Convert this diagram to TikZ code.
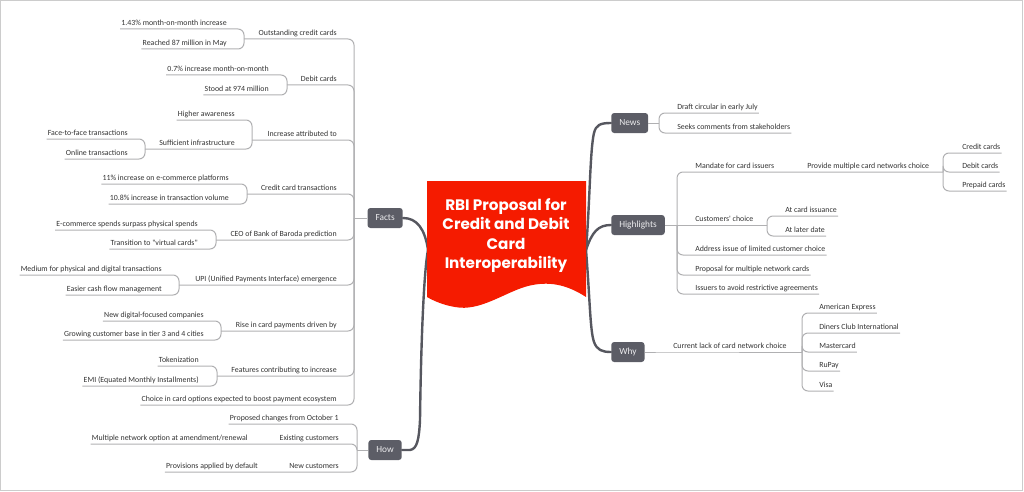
\documentclass[tikz,border=0pt]{standalone}
\usepackage{fontspec}
\setmainfont{Carlito}[Ligatures=TeXOff]
\newfontfamily\titlefont{Poppins}
\definecolor{hubgray}{RGB}{92,93,102}
\definecolor{hubtext}{RGB}{236,236,238}
\definecolor{txtgray}{RGB}{51,51,51}
\definecolor{linegray}{RGB}{176,176,178}
\definecolor{trunkgray}{RGB}{86,87,95}
\definecolor{rbired}{RGB}{245,27,0}
\definecolor{framegray}{RGB}{204,204,204}
\tikzset{
  every node/.style={font=\fontsize{5.9}{7}\selectfont},
  topic/.style={text=txtgray, inner xsep=0.75pt, inner ysep=0pt, text height=4.3pt, text depth=2.6pt},
  lt/.style={topic, anchor=south east},
  rt/.style={topic, anchor=south west},
  hub/.style={fill=hubgray, text=hubtext, rounded corners=2.2pt, inner xsep=6pt, inner ysep=0pt, minimum height=15pt, font=\fontsize{7}{8}\selectfont},
  branch/.style={draw=linegray, line width=0.75pt, rounded corners=4.5pt},
  trunk/.style={draw=trunkgray, line width=1.8pt, line cap=round},
}
\begin{document}
\begin{tikzpicture}[x=0.75pt, y=-0.75pt]
\useasboundingbox (0,0) rectangle (1024,492);
\draw[framegray, line width=1.1pt] (0.7,0.7) rectangle (1022.5,490.5);

\coordinate (cl) at (428,250);
\coordinate (cr) at (586,250);

\node[hub, anchor=east] (facts) at (403,218) {Facts};
\node[hub, anchor=east] (how) at (402,450) {How};
\node[hub, anchor=west] (news) at (611,123) {News};
\node[hub, anchor=west] (highl) at (611,225) {Highlights};
\node[hub, anchor=west] (why) at (611,352) {Why};

\draw[trunk] (facts.east) .. controls (417,218) and (425,229) .. (cl);
\draw[trunk] (how.east) -- (410,450) .. controls (417,449) and (419,440) .. (420,420) .. controls (421,340) and (424,270) .. (cl);
\draw[trunk] (cr) .. controls (590,200) and (590,150) .. (594,133) .. controls (596,125) and (600,123) .. (news.west);
\draw[trunk] (cr) .. controls (592,232) and (598,225) .. (highl.west);
\draw[trunk] (cr) .. controls (590,300) and (590,330) .. (594,342) .. controls (597,350) and (602,352) .. (why.west);

\fill[rbired] (427,181) -- (586,181) -- (586,297) .. controls (566,284) and (548,281) .. (528,286) .. controls (505,292) and (480,312) .. (455,307) .. controls (443,305) and (434,301) .. (427,297) -- cycle;
\node[font=\titlefont\bfseries\fontsize{11.4}{14.6}\selectfont, text=white, align=center] (rbi) at (506,235.5) {RBI Proposal for\\Credit and Debit\\Card\\Interoperability};

\coordinate (jfacts) at (354,218);
\node[lt] (outst) at (338,39) {Outstanding credit cards};
\coordinate (joutst) at (244,39);
\node[lt] (outst1) at (228,29) {1.43\% month-on-month increase};
\node[lt] (outst2) at (228,49) {Reached 87 million in May};
\node[lt] (debitc) at (338,85) {Debit cards};
\coordinate (jdebitc) at (287,85);
\node[lt] (debitc1) at (270,75) {0.7\% increase month-on-month};
\node[lt] (debitc2) at (270,95) {Stood at 974 million};
\node[lt] (attrib) at (338,140) {Increase attributed to};
\coordinate (jattrib) at (252,140);
\node[lt] (aware) at (236,120) {Higher awareness};
\node[lt] (infra) at (236,149) {Sufficient infrastructure};
\coordinate (jinfra) at (145,149);
\node[lt] (face) at (129,139) {Face-to-face transactions};
\node[lt] (online) at (129,159) {Online transactions};
\node[lt] (cctrans) at (338,194) {Credit card transactions};
\coordinate (jcctrans) at (247,194);
\node[lt] (cctrans1) at (230,184) {11\% increase on e-commerce platforms};
\node[lt] (cctrans2) at (230,204) {10.8\% increase in transaction volume};
\node[lt] (ceo) at (338,240) {CEO of Bank of Baroda prediction};
\coordinate (jceo) at (216,240);
\node[lt] (ceo1) at (199,230) {E-commerce spends surpass physical spends};
\node[lt] (ceo2) at (199,249) {Transition to "virtual cards"};
\node[lt] (upi) at (338,285) {UPI (Unified Payments Interface) emergence};
\coordinate (jupi) at (179,285);
\node[lt] (upi1) at (163,275) {Medium for physical and digital transactions};
\node[lt] (upi2) at (163,295) {Easier cash flow management};
\node[lt] (rise) at (338,331) {Rise in card payments driven by};
\coordinate (jrise) at (221,331);
\node[lt] (rise1) at (205,321) {New digital-focused companies};
\node[lt] (rise2) at (205,340) {Growing customer base in tier 3 and 4 cities};
\node[lt] (feat) at (338,376) {Features contributing to increase};
\coordinate (jfeat) at (217,376);
\node[lt] (feat1) at (200,366) {Tokenization};
\node[lt] (feat2) at (200,386) {EMI (Equated Monthly Installments)};
\node[lt] (choice) at (338,405) {Choice in card options expected to boost payment ecosystem};

\draw[branch] (facts.west) -- (jfacts);
\draw[branch] (jfacts) |- (outst.south east) -- (joutst);
\draw[branch] (joutst) |- (outst1.south west);
\draw[branch] (joutst) |- (outst2.south west);
\draw[branch] (jfacts) |- (debitc.south east) -- (jdebitc);
\draw[branch] (jdebitc) |- (debitc1.south west);
\draw[branch] (jdebitc) |- (debitc2.south west);
\draw[branch] (jfacts) |- (attrib.south east) -- (jattrib);
\draw[branch] (jattrib) |- (aware.south west);
\draw[branch] (jattrib) |- (infra.south east) -- (jinfra);
\draw[branch] (jinfra) |- (face.south west);
\draw[branch] (jinfra) |- (online.south west);
\draw[branch] (jfacts) |- (cctrans.south east) -- (jcctrans);
\draw[branch] (jcctrans) |- (cctrans1.south west);
\draw[branch] (jcctrans) |- (cctrans2.south west);
\draw[branch] (jfacts) |- (ceo.south east) -- (jceo);
\draw[branch] (jceo) |- (ceo1.south west);
\draw[branch] (jceo) |- (ceo2.south west);
\draw[branch] (jfacts) |- (upi.south east) -- (jupi);
\draw[branch] (jupi) |- (upi1.south west);
\draw[branch] (jupi) |- (upi2.south west);
\draw[branch] (jfacts) |- (rise.south east) -- (jrise);
\draw[branch] (jrise) |- (rise1.south west);
\draw[branch] (jrise) |- (rise2.south west);
\draw[branch] (jfacts) |- (feat.south east) -- (jfeat);
\draw[branch] (jfeat) |- (feat1.south west);
\draw[branch] (jfeat) |- (feat2.south west);
\draw[branch] (jfacts) |- (choice.south west);

\coordinate (jhow) at (357,450);
\node[lt] (october) at (340,424) {Proposed changes from October 1};
\node[lt] (existing) at (340,444) {Existing customers};
\node[lt] (multi) at (249,444) {Multiple network option at amendment/renewal};
\node[lt] (newcust) at (340,472) {New customers};
\node[lt] (bydefault) at (259,472) {Provisions applied by default};

\draw[branch] (how.west) -- (jhow);
\draw[branch] (jhow) |- (october.south west);
\draw[branch] (jhow) |- (existing.south west) -- (multi.south west);
\draw[branch] (jhow) |- (newcust.south west) -- (bydefault.south west);

\coordinate (jnews) at (659,123);
\node[rt] (draft) at (676,113) {Draft circular in early July};
\node[rt] (seeks) at (676,133) {Seeks comments from stakeholders};

\draw[branch] (news.east) -- (jnews);
\draw[branch] (jnews) |- (draft.south east);
\draw[branch] (jnews) |- (seeks.south east);

\coordinate (jhighl) at (677,225);
\node[rt] (mandate) at (694,172) {Mandate for card issuers};
\node[rt] (provide) at (806,172) {Provide multiple card networks choice};
\coordinate (jprovide) at (943,172);
\node[rt] (credit) at (961,153) {Credit cards};
\node[rt] (debit) at (961,172) {Debit cards};
\node[rt] (prepaid) at (961,191) {Prepaid cards};
\node[rt] (custch) at (694,225) {Customers' choice};
\coordinate (jcustch) at (767,225);
\node[rt] (issuance) at (784,216) {At card issuance};
\node[rt] (later) at (784,236) {At later date};
\node[rt] (address) at (694,255) {Address issue of limited customer choice};
\node[rt] (proposal) at (694,275) {Proposal for multiple network cards};
\node[rt] (avoid) at (694,294) {Issuers to avoid restrictive agreements};

\draw[branch] (highl.east) -- (jhighl);
\draw[branch] (jhighl) |- (mandate.south west) -- (provide.south east) -- (jprovide);
\draw[branch] (jprovide) |- (credit.south east);
\draw[branch] (jprovide) |- (debit.south east);
\draw[branch] (jprovide) |- (prepaid.south east);
\draw[branch] (jhighl) -- (jcustch);
\draw[branch] (jcustch) |- (issuance.south east);
\draw[branch] (jcustch) |- (later.south east);
\draw[branch] (jhighl) |- (address.south east);
\draw[branch] (jhighl) |- (proposal.south east);
\draw[branch] (jhighl) |- (avoid.south east);

\node[rt] (lack) at (672,352) {Current lack of card network choice};
\coordinate (jlack) at (802,352);
\node[rt] (amex) at (818,313) {American Express};
\node[rt] (diners) at (818,333) {Diners Club International};
\node[rt] (master) at (818,352) {Mastercard};
\node[rt] (rupay) at (818,371) {RuPay};
\node[rt] (visa) at (818,391) {Visa};

\draw[branch] (why.east) -- (lack.south west) -- (jlack);
\draw[branch] (jlack) |- (amex.south east);
\draw[branch] (jlack) |- (diners.south east);
\draw[branch] (jlack) |- (master.south east);
\draw[branch] (jlack) |- (rupay.south east);
\draw[branch] (jlack) |- (visa.south east);
\end{tikzpicture}
\end{document}
